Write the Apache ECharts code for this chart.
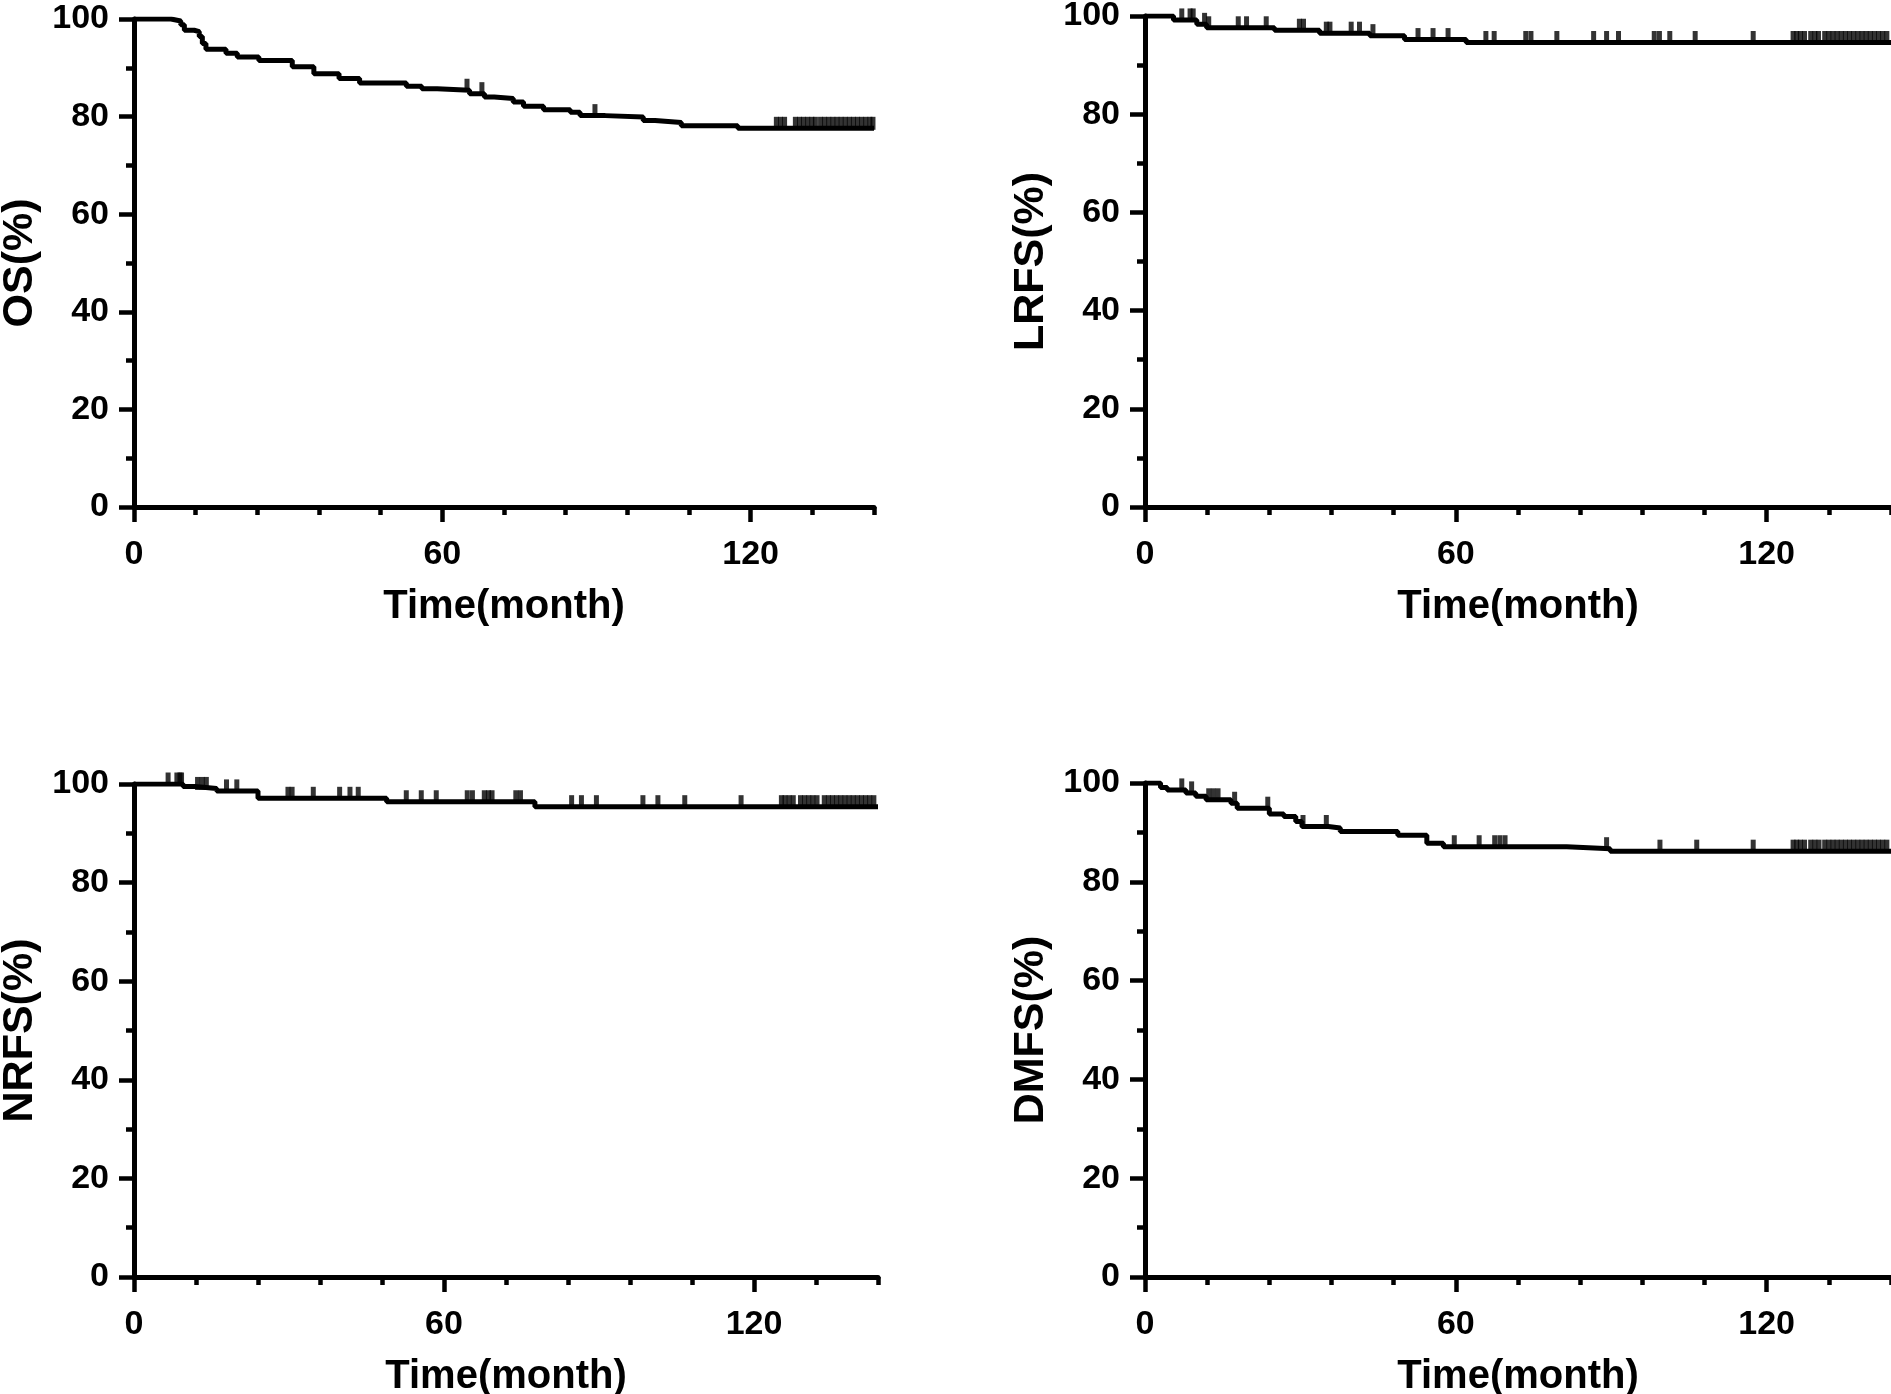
<!DOCTYPE html>
<html>
<head>
<meta charset="utf-8">
<script src="https://cdn.jsdelivr.net/npm/echarts@6/dist/echarts.min.js"></script>
<style>
  html, body { margin: 0; padding: 0; background: #fff; }
  #chart { width: 1891px; height: 1394px; }
</style>
</head>
<body>
<div id="chart"></div>
<script>
// Kaplan-Meier step points: month of each drop and survival (%) after it
const osTime = [0, 7.2, 9.1, 9.8, 11.7, 12.7, 13.3, 14, 17.9, 20.1, 24.3, 30.8, 35, 39.9, 43.9, 53, 56, 59, 65.3, 68.2, 70.1, 73.8, 75.8, 79.7, 84.9, 86.8, 91.7, 99.1, 101.4, 106.5, 117.5, 144];
const osSurv = [100, 99.6, 98.8, 97.7, 97.4, 96.4, 95.0, 93.8, 93.0, 92.2, 91.5, 90.2, 88.8, 87.8, 86.9, 86.2, 85.7, 85.4, 84.7, 84.0, 83.7, 83.0, 82.1, 81.4, 80.9, 80.2, 79.9, 79.2, 78.8, 78.1, 77.6, 77.6];
const osCensor = [64.8, 67.7, 89.7, 125, 125.8, 126.6, 128.7, 129.5, 130.3, 131.1, 131.9, 132.6, 133.6, 134.4, 135.2, 136, 136.8, 137.6, 138.4, 139.2, 140, 140.8, 141.6, 142.4, 143.2, 143.8];

const lrfsTime = [0, 5.5, 10, 11.9, 25, 33.7, 43.4, 50.1, 62, 144];
const lrfsSurv = [100, 99.2, 98.3, 97.6, 97.1, 96.5, 96.0, 95.2, 94.6, 94.6];
const lrfsCensor = [7.1, 8.7, 9.3, 11.5, 12.3, 18, 19.6, 23.4, 29.8, 30.6, 35, 35.7, 39.8, 41.4, 44, 52.7, 55.6, 58.5, 65.8, 67.4, 73.5, 74.5, 79.5, 86.6, 89.1, 91.4, 98.3, 99.3, 101.3, 106.2, 117.4, 125.1, 125.8, 126.5, 127.3, 128.5, 129.3, 130, 131.2, 132, 132.8, 133.6, 134.4, 135.2, 136, 136.8, 137.6, 138.4, 139.2, 140, 140.8, 141.6, 142.4, 143.2];

const nrfsTime = [0, 9.5, 11.8, 16, 24, 48.9, 77.6, 144];
const nrfsSurv = [100, 99.5, 99.1, 98.6, 97.1, 96.4, 95.4, 95.4];
const nrfsCensor = [6.6, 8.3, 8.9, 9.2, 12.3, 13.2, 14.0, 17.9, 19.9, 29.8, 30.6, 34.7, 39.8, 41.8, 43.4, 52.7, 55.6, 58.5, 64.5, 65.5, 67.8, 68.6, 69.3, 73.9, 74.8, 84.7, 86.6, 89.5, 98.5, 101.4, 106.6, 117.5, 125.3, 126, 126.8, 127.6, 129, 129.8, 130.6, 131.4, 132.2, 133.6, 134.4, 135.2, 136, 136.8, 137.6, 138.4, 139.2, 140, 140.8, 141.6, 142.4, 143.2];

const dmfsTime = [0, 3.0, 4.3, 7.9, 9.8, 11.8, 16.6, 17.8, 24, 26.8, 29.1, 30.3, 35.4, 37.7, 48.8, 54.4, 57.6, 81.4, 89.8, 144];
const dmfsSurv = [100, 99.1, 98.6, 98.0, 97.3, 96.6, 95.9, 94.9, 93.7, 93.2, 92.2, 91.2, 90.9, 90.2, 89.4, 87.8, 87.1, 86.7, 86.2, 86.2];
const dmfsCensor = [7.1, 9.0, 12.3, 13.2, 14.1, 17.3, 23.7, 30.5, 35.0, 59.7, 64.5, 67.5, 68.5, 69.5, 89.1, 99.4, 106.5, 117.4, 125.1, 125.8, 126.5, 127.3, 128.5, 129.3, 130.1, 131.2, 132, 132.8, 133.6, 134.4, 135.2, 136, 136.8, 137.6, 138.4, 139.2, 140, 140.8, 141.6, 142.4, 143.2];

const yNames = ['OS(%)', 'LRFS(%)', 'NRFS(%)', 'DMFS(%)'];
const xName = 'Time(month)';
const xMajorTicks = [0, 60, 120];

const curves = [
  { time: osTime, surv: osSurv, censor: osCensor },
  { time: lrfsTime, surv: lrfsSurv, censor: lrfsCensor },
  { time: nrfsTime, surv: nrfsSurv, censor: nrfsCensor },
  { time: dmfsTime, surv: dmfsSurv, censor: dmfsCensor }
];

// panel boxes in px
const layout = [
  { left: 134, top: 19, width: 740, height: 488 },
  { left: 1145, top: 16, width: 746, height: 491 },
  { left: 134, top: 784, width: 744, height: 493 },
  { left: 1145, top: 783, width: 746, height: 494 }
];

const font = 'Liberation Sans';
const black = '#000';
const labelStyle = { fontFamily: font, fontWeight: 'bold', fontSize: 34, color: black };

function levelAt(time, surv, t) {
  let s = surv[0];
  for (let i = 0; i < time.length; i++) {
    if (time[i] <= t) s = surv[i];
  }
  return s;
}

const grid = [], xAxis = [], yAxis = [], series = [];
curves.forEach((c, i) => {
  grid.push(Object.assign({ containLabel: false, outerBoundsMode: 'none' }, layout[i]));
  // main x axis: short ticks every 12 months, labels every 60
  xAxis.push({
    type: 'value', gridIndex: i, position: 'bottom', min: 0, max: 144, interval: 12,
    name: xName, nameLocation: 'middle', nameGap: 80,
    nameTextStyle: { fontFamily: font, fontWeight: 'bold', fontSize: 40, color: black },
    axisLine: { show: true, onZero: false, lineStyle: { color: black, width: 5 } },
    axisTick: { show: true, length: 8, lineStyle: { color: black, width: 4.5 } },
    axisLabel: Object.assign({ margin: 31, formatter: v => (v % 60 === 0 ? String(v) : '') }, labelStyle),
    splitLine: { show: false }
  });
  yAxis.push({
    type: 'value', gridIndex: i, min: 0, max: 100, interval: 20,
    name: yNames[i], nameLocation: 'middle', nameGap: 92,
    nameTextStyle: { fontFamily: font, fontWeight: 'bold', fontSize: 43, color: black },
    axisLine: { show: true, onZero: false, lineStyle: { color: black, width: 5 } },
    axisTick: { show: true, length: 15, lineStyle: { color: black, width: 4.5 } },
    minorTick: { show: true, splitNumber: 2, length: 8, lineStyle: { color: black, width: 4.5 } },
    axisLabel: Object.assign({ margin: 25 }, labelStyle),
    splitLine: { show: false }
  });
  series.push({
    type: 'line', xAxisIndex: i, yAxisIndex: i, step: 'end',
    symbol: 'none', lineStyle: { color: black, width: 5 },
    data: c.time.map((t, k) => [t, c.surv[k]])
  });
  series.push({
    type: 'scatter', xAxisIndex: i, yAxisIndex: i,
    symbol: 'rect', symbolSize: [5, 13], symbolOffset: [0, -5],
    itemStyle: { color: black },
    data: c.censor.map(t => [t, levelAt(c.time, c.surv, t)])
  });
});

// overlay x axes carrying only the longer ticks at 0, 60, 120
curves.forEach((c, i) => {
  xAxis.push({
    type: 'value', gridIndex: i, position: 'bottom', offset: 0, min: 0, max: 144, interval: 60,
    axisLine: { show: false },
    axisTick: { show: true, length: 15, customValues: xMajorTicks, lineStyle: { color: black, width: 4.5 } },
    axisLabel: { show: false },
    splitLine: { show: false }
  });
});

const chart = echarts.init(document.getElementById('chart'));
chart.setOption({
  animation: false,
  backgroundColor: '#fff',
  grid: grid,
  xAxis: xAxis,
  yAxis: yAxis,
  series: series
});
</script>
</body>
</html>
